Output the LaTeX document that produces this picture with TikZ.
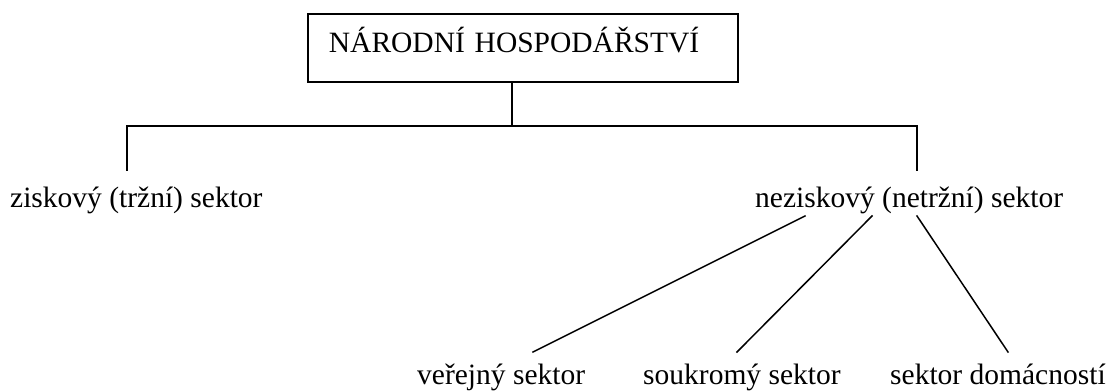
\documentclass[tikz,border=0pt]{standalone}
\usepackage{fontspec}
\setmainfont{Liberation Serif}
\begin{document}
\begin{tikzpicture}[x=1pt,y=-1pt,
  lbl/.style={anchor=base west, inner sep=0pt, font=\fontsize{29.5}{32}\selectfont},
  conn/.style={line width=1.5pt, line cap=rect},
  titlebox/.style={draw, line width=1.8pt, anchor=north west, inner xsep=21pt, inner ysep=0pt,
    text width=388pt, text height=39pt, text depth=29pt, align=left,
    font=\fontsize{29.5}{32}\selectfont}]
\useasboundingbox (0,0) rectangle (1112,391);
\node[titlebox] (top) at (307,13) {NÁRODNÍ HOSPODÁŘSTVÍ};
\node[lbl] (zisk) at (10,207) {ziskový (tržní) sektor};
\node[lbl] (nezisk) at (755,207) {neziskový (netržní) sektor};
\node[lbl] (verej) at (417,384) {veřejný sektor};
\node[lbl] (soukr) at (643,384) {soukromý sektor};
\node[lbl] (domac) at (890,384) {sektor domácností};
% junctions
\coordinate (j) at (512,126);
\coordinate (lc) at (127,126);
\coordinate (rc) at (917,126);
\coordinate (le) at (127,170);
\coordinate (re) at (917,170);
\coordinate (n1) at (805,216);
\coordinate (n2) at (872,216);
\coordinate (n3) at (917,216);
\coordinate (b1) at (533,352);
\coordinate (b2) at (737,352);
\coordinate (b3) at (1008,352);
\draw[conn] (top.south -| j) -- (j);
\draw[conn] (lc) -- (rc);
\draw[conn] (lc) -- (le);
\draw[conn] (rc) -- (re);
\draw[conn] (n1) -- (b1);
\draw[conn] (n2) -- (b2);
\draw[conn] (n3) -- (b3);
\end{tikzpicture}
\end{document}
